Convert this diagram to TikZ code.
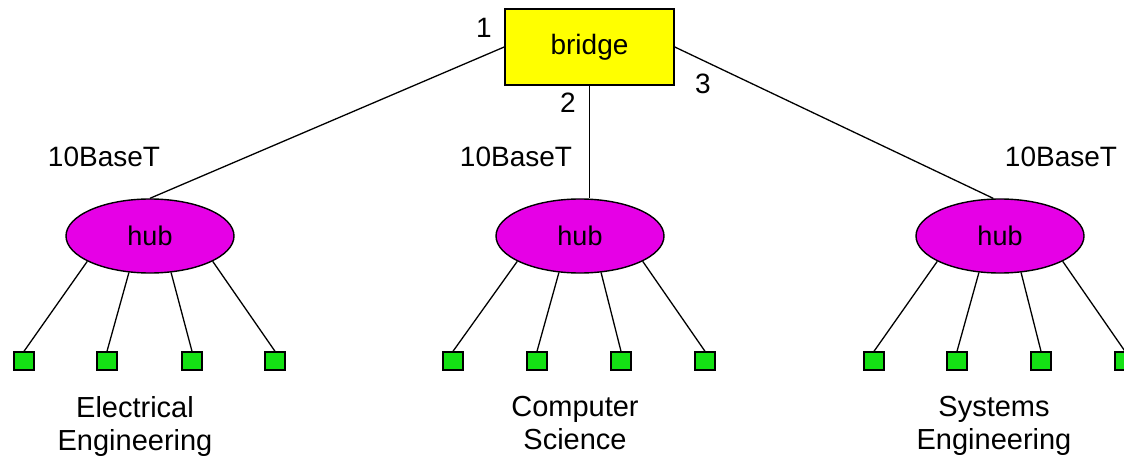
\documentclass[tikz,border=0pt]{standalone}
\usepackage{fontspec}
\setmainfont{Liberation Sans}
\usetikzlibrary{shapes.geometric}
\definecolor{bridgeyellow}{RGB}{255,255,0}
\definecolor{hubmagenta}{RGB}{230,0,230}
\definecolor{termgreen}{RGB}{20,225,20}
\tikzset{
  bridgebox/.style={draw=black, line width=1.6pt, fill=bridgeyellow, minimum width=169pt, minimum height=76pt, inner sep=0pt, font=\fontsize{28}{32}\selectfont},
  hubnode/.style={ellipse, draw=black, line width=1.4pt, fill=hubmagenta, minimum width=168pt, minimum height=74pt, inner sep=0pt, font=\fontsize{27}{32}\selectfont},
  term/.style={draw=black, line width=1.4pt, fill=termgreen, minimum width=20pt, minimum height=18pt, inner sep=0pt},
  wire/.style={line width=1.3pt},
  lbl/.style={inner sep=0pt, font=\fontsize{28}{32}\selectfont},
  grp/.style={inner sep=0pt, align=center, anchor=north, font=\fontsize{29}{33}\selectfont},
}
\begin{document}
\begin{tikzpicture}[x=1pt,y=-1pt]
\useasboundingbox[fill=white] (0,0) rectangle (1124,457);
% bridge
\node[bridgebox] (b) at (589.5,47) {bridge};
% hubs
\node[hubnode] (h1) at (150,236) {hub};
\node[hubnode] (h2) at (580,236) {hub};
\node[hubnode] (h3) at (1000,236) {hub};
% bridge to hubs
\draw[wire] (b.west) -- (h1.north);
\draw[wire] (b.south) -- (b.south |- h2.north);
\draw[wire] (b.east) -- (h3.100);
% port labels
\node[lbl] (p1) at (484,28) {1};
\node[lbl] (p2) at (568,103) {2};
\node[lbl] (p3) at (703,84) {3};
% 10BaseT labels
\node[lbl, anchor=base] (t1) at (104,167) {10BaseT};
\node[lbl, anchor=base] (t2) at (516,167) {10BaseT};
\node[lbl, anchor=base] (t3) at (1061,167) {10BaseT};
% terminals
\foreach \g/\h/\xa/\xb/\xc/\xd in {1/h1/24/107/192/275, 2/h2/453/537/621/705, 3/h3/874/957/1041/1125}{
  \node[term] (s\g a) at (\xa,361) {};
  \node[term] (s\g b) at (\xb,361) {};
  \node[term] (s\g c) at (\xc,361) {};
  \node[term] (s\g d) at (\xd,361) {};
  \draw[wire] (\h.-158) -- (s\g a.north);
  \draw[wire] (\h.-120) -- (s\g b.north);
  \draw[wire] (\h.-60) -- (s\g c.north);
  \draw[wire] (\h.-22) -- (s\g d.north);
}
% group labels
\node[grp] (g1) at (135,396) {Electrical\\Engineering};
\node[grp] (g2) at (575,396) {Computer\\Science};
\node[grp] (g3) at (994,396) {Systems\\Engineering};
\end{tikzpicture}
\end{document}
